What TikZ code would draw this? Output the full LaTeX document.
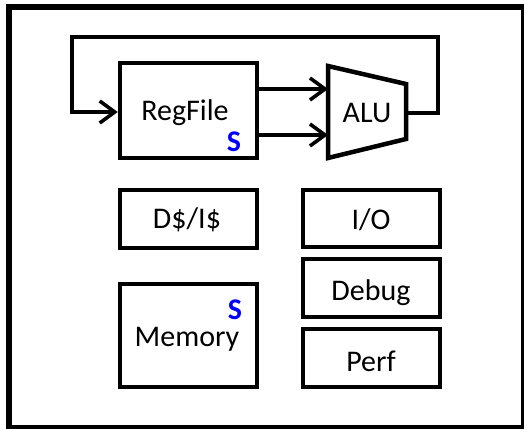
\documentclass[tikz,border=0pt]{standalone}
\usepackage{fontspec}
\setmainfont{Carlito}
\usetikzlibrary{arrows.meta}
\definecolor{sblue}{RGB}{0,0,255}
\begin{document}
\begin{tikzpicture}[x=1pt,y=-1pt,
  blockbox/.style={draw,line width=4.5pt,rectangle,inner sep=0pt},
  lbl/.style={font=\fontsize{30}{34}\selectfont,inner sep=0pt,anchor=center},
  smark/.style={font=\fontsize{30}{34}\selectfont\bfseries,text=sblue,inner sep=0pt,
    text height=19pt,text depth=0pt},
  wire/.style={line width=3.6pt},
  arr/.style={wire,-{Straight Barb[length=15pt,width=22pt,line width=3.6pt]}}]
  \useasboundingbox (0,0) rectangle (524,428);
  % outer frame
  \draw[line width=6pt] (9,7) rectangle (524,428);

  % register file
  \node[blockbox,minimum width=137pt,minimum height=95pt] (regfile) at (188.5,110.5) {};
  \node[lbl] (regtxt) at (185,113) {RegFile};
  \node[smark] (regs) at (234,142) {S};

  % ALU trapezoid
  \coordinate (aluA) at (328,66);
  \coordinate (aluB) at (406,84);
  \coordinate (aluC) at (406,139);
  \coordinate (aluD) at (328,158);
  \draw[line width=4.5pt,line join=miter] (aluA) -- (aluB) -- (aluC) -- (aluD) -- cycle;
  \node[lbl] (alu) at (367,113) {ALU};
  \coordinate (aluin1) at (328,89);
  \coordinate (aluin2) at (328,135);
  \coordinate (aluout) at (406,113);

  % operand paths
  \draw[arr] (regfile.east |- aluin1) -- (aluin1);
  \draw[arr] (regfile.east |- aluin2) -- (aluin2);

  % writeback loop
  \coordinate (loopR) at (438,113);
  \coordinate (loopTR) at (438,37);
  \coordinate (loopTL) at (72,37);
  \coordinate (loopL) at (72,112);
  \draw[arr,line join=miter] (aluout) -- (loopR) -- (loopTR) -- (loopTL) -- (loopL) -- (regfile.west |- loopL);

  % caches and memory
  \node[blockbox,minimum width=137pt,minimum height=58pt] (cache) at (188.5,219) {};
  \node[lbl] (cachetxt) at (187,220) {D\$/I\$};
  \node[blockbox,minimum width=137pt,minimum height=103pt] (mem) at (188.5,335.5) {};
  \node[lbl] (memtxt) at (187,339) {Memory};
  \node[smark] (mems) at (235,310) {S};

  % peripherals
  \node[blockbox,minimum width=137pt,minimum height=57pt] (io) at (371.5,218.5) {};
  \node[lbl] (iotxt) at (371,220) {I/O};
  \node[blockbox,minimum width=137pt,minimum height=58pt] (debug) at (371.5,288) {};
  \node[lbl] (debugtxt) at (371,293) {Debug};
  \node[blockbox,minimum width=137pt,minimum height=58pt] (perf) at (371.5,358) {};
  \node[lbl] (perftxt) at (371,361) {Perf};
\end{tikzpicture}
\end{document}
